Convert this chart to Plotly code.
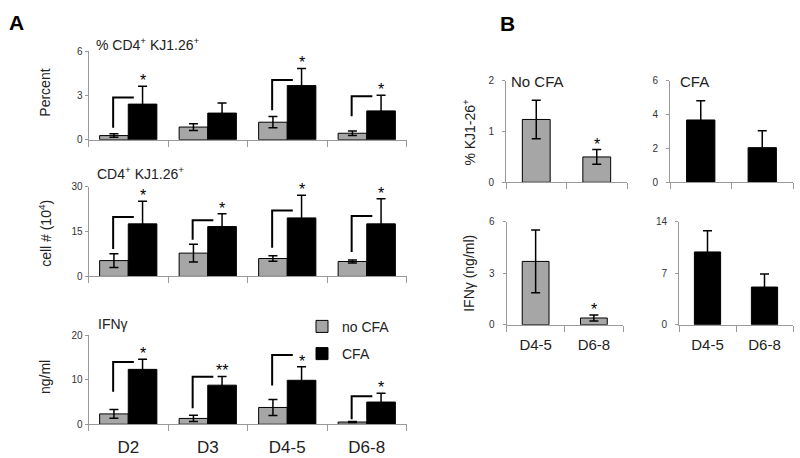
import plotly.graph_objects as go

# ---------------- data ----------------
days_a = ["D2", "D3", "D4-5", "D6-8"]
days_b = ["D4-5", "D6-8"]
series_names = ["no CFA", "CFA"]

pct_nocfa = [0.28, 0.86, 1.19, 0.44]
pct_nocfa_err = [0.12, 0.23, 0.38, 0.15]
pct_cfa = [2.42, 1.81, 3.68, 1.96]
pct_cfa_err = [1.22, 0.68, 1.17, 1.06]
pct_stars = ["*", "", "*", "*"]
pct_brackets = [(0.82, 2.87), None, (2.0, 4.06), (1.59, 2.96)]

cells_nocfa = [5.3, 7.8, 6.0, 5.0]
cells_nocfa_err = [2.3, 3.0, 0.9, 0.5]
cells_cfa = [17.6, 16.7, 19.6, 17.6]
cells_cfa_err = [7.6, 4.3, 7.6, 8.4]
cells_stars = ["*", "*", "*", "*"]
cells_brackets = [(9.2, 19.9), (12.3, 18.8), (9.6, 22.1), (8.2, 20.2)]

ifn_nocfa = [2.33, 1.31, 3.78, 0.5]
ifn_nocfa_err = [0.98, 0.7, 1.8, 0.1]
ifn_cfa = [12.36, 8.8, 9.9, 5.0]
ifn_cfa_err = [2.3, 1.96, 3.05, 1.96]
ifn_stars = ["*", "**", "*", "*"]
ifn_brackets = [(7.3, 14.0), (3.6, 10.7), (8.7, 15.6), (1.1, 6.3)]

b_pct_nocfa = [1.24, 0.50]
b_pct_nocfa_err = [0.38, 0.145]
b_pct_cfa = [3.69, 2.05]
b_pct_cfa_err = [1.14, 1.0]
b_ifn_nocfa = [3.68, 0.39]
b_ifn_nocfa_err = [1.82, 0.17]
b_ifn_cfa = [9.87, 5.11]
b_ifn_cfa_err = [2.86, 1.76]
b_nocfa_stars = ["", "*"]

# y axis settings: (range max, tick values)
a_axes = [(6, [0, 3, 6]), (30, [0, 15, 30]), (20, [0, 10, 20])]
b_axes = [(2, [0, 1, 2]), (6, [0, 2, 4, 6]), (6, [0, 3, 6]), (14, [0, 7, 14])]

# ---------------- style ----------------
W, H = 800, 458
FONT = "Liberation Sans, Arial, sans-serif"
GRAY = "#a6a6a6"
AXIS = "#9a9a9a"
TXT = "#222222"


def px_x(p):
    return p / W


def px_y(p):
    return 1 - p / H


fig = go.Figure()

a_sets = [
    (pct_nocfa, pct_nocfa_err, pct_cfa, pct_cfa_err, pct_stars, pct_brackets),
    (cells_nocfa, cells_nocfa_err, cells_cfa, cells_cfa_err, cells_stars, cells_brackets),
    (ifn_nocfa, ifn_nocfa_err, ifn_cfa, ifn_cfa_err, ifn_stars, ifn_brackets),
]
a_ydom = [(46.7, 137.3), (185.7, 277.7), (338.3, 429.5)]
a_xdom = (88.5, 406.5)
idx_a = list(range(len(days_a)))
bw = 0.36
annotations = []
layout_axes = {}

for k, (g, ge, b, be, stars, brackets) in enumerate(a_sets):
    n = k + 1
    xa = "x" if n == 1 else f"x{n}"
    ya = "y" if n == 1 else f"y{n}"
    last = k == 2
    fig.add_trace(go.Bar(
        x=idx_a, y=g, width=bw, offset=-bw, xaxis=xa, yaxis=ya,
        marker=dict(color=GRAY, line=dict(color="black", width=1)),
        error_y=dict(type="data", array=ge, color="black", thickness=1.5, width=4.5),
        name=series_names[0], showlegend=last, legendgroup="g0"))
    fig.add_trace(go.Bar(
        x=idx_a, y=b, width=bw, offset=0, xaxis=xa, yaxis=ya,
        marker=dict(color="black", line=dict(color="black", width=1)),
        error_y=dict(type="data", array=be, color="black", thickness=1.5, width=4.5),
        name=series_names[1], showlegend=last, legendgroup="g1"))
    for i, br in enumerate(brackets):
        if br is None:
            continue
        x0 = i - 0.19
        x1 = i + 0.07
        fig.add_trace(go.Scatter(
            x=[x0, x0, x1], y=[br[0], br[1], br[1]], mode="lines",
            line=dict(color="black", width=2), xaxis=xa, yaxis=ya,
            showlegend=False, hoverinfo="skip"))
    for i, s in enumerate(stars):
        if s:
            annotations.append(dict(
                x=i + bw / 2, y=b[i] + be[i], xref=xa, yref=ya, text=s,
                showarrow=False, yanchor="bottom", yshift=-5,
                font=dict(size=16, color="black", family=FONT)))
    ymax, tv = a_axes[k]
    key = "" if n == 1 else str(n)
    layout_axes["xaxis" + key] = dict(
        domain=[px_x(a_xdom[0]), px_x(a_xdom[1])], anchor=ya, range=[-0.5, 3.5],
        tickmode="array", tickvals=idx_a, ticktext=days_a, ticks="",
        showticklabels=last, tickfont=dict(size=17, color=TXT),
        showline=True, linecolor=AXIS, linewidth=1, showgrid=False, zeroline=False,
        ticklabelstandoff=7,
        minor=dict(tickmode="array", tickvals=[i - 0.5 for i in range(len(days_a) + 1)],
                   ticks="outside", ticklen=6, tickcolor=AXIS, showgrid=False))
    layout_axes["yaxis" + key] = dict(
        domain=[px_y(a_ydom[k][1]), px_y(a_ydom[k][0])], anchor=xa, range=[0, ymax],
        tickmode="array", tickvals=tv, ticks="outside", ticklen=3, tickcolor=AXIS,
        tickfont=dict(size=10, color="#333333"),
        showline=True, linecolor=AXIS, linewidth=1, showgrid=False, zeroline=False)

# ---------------- panel B ----------------
b_sets = [
    (b_pct_nocfa, b_pct_nocfa_err, GRAY, b_nocfa_stars, False),
    (b_pct_cfa, b_pct_cfa_err, "black", None, False),
    (b_ifn_nocfa, b_ifn_nocfa_err, GRAY, b_nocfa_stars, True),
    (b_ifn_cfa, b_ifn_cfa_err, "black", None, True),
]
b_xdom = [(506, 627), (670, 793), (506.5, 623), (679, 793)]
b_ydom = [(77, 181), (77, 181), (221.3, 327.3), (221.3, 327.3)]
idx_b = list(range(len(days_b)))
for k, (v, ve, col, stars, lab) in enumerate(b_sets):
    n = k + 4
    xa, ya = f"x{n}", f"y{n}"
    fig.add_trace(go.Bar(
        x=idx_b, y=v, width=0.46, xaxis=xa, yaxis=ya,
        marker=dict(color=col, line=dict(color="black", width=1)),
        error_y=dict(type="data", array=ve, color="black", thickness=1.5, width=4.5),
        showlegend=False))
    if stars:
        for i, s in enumerate(stars):
            if s:
                annotations.append(dict(
                    x=i, y=v[i] + ve[i], xref=xa, yref=ya, text=s,
                    showarrow=False, yanchor="bottom", yshift=-5,
                    font=dict(size=16, color="black", family=FONT)))
    ymax, tv = b_axes[k]
    layout_axes[f"xaxis{n}"] = dict(
        domain=[px_x(b_xdom[k][0]), px_x(b_xdom[k][1])], anchor=ya, range=[-0.5, 1.5],
        tickmode="array", tickvals=idx_b, ticktext=days_b, ticks="",
        showticklabels=lab, tickfont=dict(size=15, color=TXT),
        showline=True, linecolor=AXIS, linewidth=1, showgrid=False, zeroline=False,
        ticklabelstandoff=6,
        minor=dict(tickmode="array", tickvals=[-0.5, 0.5, 1.5],
                   ticks="outside", ticklen=6, tickcolor=AXIS, showgrid=False))
    layout_axes[f"yaxis{n}"] = dict(
        domain=[px_y(b_ydom[k][1]), px_y(b_ydom[k][0])], anchor=xa, range=[0, ymax],
        tickmode="array", tickvals=tv, ticks="outside", ticklen=3, tickcolor=AXIS,
        tickfont=dict(size=10, color="#333333"), ticklabelstandoff=6,
        showline=True, linecolor=AXIS, linewidth=1, showgrid=False, zeroline=False)

# ---------------- texts ----------------
def text(x, y, s, size, anchor="center", angle=0, bold=False):
    annotations.append(dict(
        x=px_x(x), y=px_y(y), xref="paper", yref="paper", text=f"<b>{s}</b>" if bold else s,
        showarrow=False, xanchor=anchor, yanchor="middle", textangle=angle,
        font=dict(size=size, color="black" if bold else TXT, family=FONT)))


text(16, 17, "A", 21, bold=True)
text(507, 18, "B", 21, bold=True)
text(94, 39, "% CD4<sup>+</sup> KJ1.26<sup>+</sup>", 14, anchor="left")
text(95, 171, "CD4<sup>+</sup> KJ1.26<sup>+</sup>", 14, anchor="left")
text(96, 327, "IFNγ", 14, anchor="left")
text(509, 78, "No CFA", 15, anchor="left")
text(678, 78, "CFA", 15, anchor="left")
text(45, 89, "Percent", 14, angle=-90)
text(45, 234, "cell # (10<sup>4</sup>)", 14, angle=-90)
text(45, 381, "ng/ml", 14, angle=-90)
text(469, 130, "% KJ1-26<sup>+</sup>", 14, angle=-90)
text(469, 275, "IFNγ (ng/ml)", 14, angle=-90)

fig.update_layout(
    width=W, height=H, margin=dict(l=0, r=0, t=0, b=0),
    paper_bgcolor="white", plot_bgcolor="white", barmode="overlay",
    font=dict(family=FONT, color=TXT),
    annotations=annotations,
    legend=dict(x=px_x(302), y=px_y(313), xanchor="left", yanchor="top",
                font=dict(size=14, color=TXT, family=FONT), tracegroupgap=6,
                bgcolor="rgba(0,0,0,0)"),
    **layout_axes)

fig.write_html("out.html", config={"displayModeBar": False},
               post_script="document.body.style.margin='0';")
